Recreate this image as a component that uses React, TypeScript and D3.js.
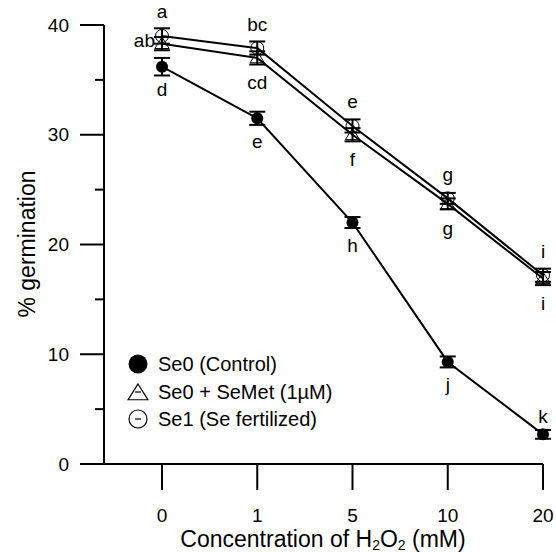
import React from "react";
import * as d3 from "d3";

// H2O2 concentrations (mM), shown as evenly spaced categories
const concentrations = ["0", "1", "5", "10", "20"];

// % germination means and errors
const se0 = [36.2, 31.5, 22.0, 9.3, 2.7];
const se0Err = [0.8, 0.6, 0.5, 0.5, 0.4];
const seMet = [38.3, 37.0, 30.0, 23.7, 16.9];
const seMetErr = [0.6, 0.6, 0.6, 0.5, 0.6];
const se1 = [39.0, 37.9, 30.8, 24.2, 17.2];
const se1Err = [0.7, 0.6, 0.6, 0.5, 0.6];

// significance letters
const se0Letters = ["d", "e", "h", "j", "k"];
const seMetLetters = ["ab", "cd", "f", "g", "i"];
const se1Letters = ["a", "bc", "e", "g", "i"];

const yTicks = [0, 10, 20, 30, 40];
const yMinorTicks = [5, 15, 25, 35];

const legendLabels = ["Se0 (Control)", "Se0 + SeMet (1\u00b5M)", "Se1 (Se fertilized)"];

const W = 556;
const H = 552;
const font = "'Liberation Sans', Arial, sans-serif";

const x = d3.scalePoint<string>().domain(concentrations).range([162, 543]);
const y = d3.scaleLinear().domain([0, 40]).range([464, 25]);

const line = d3
  .line<number>()
  .x((_, i) => x(concentrations[i])!)
  .y((d) => y(d));

function ErrorBars({ vals, errs }: { vals: number[]; errs: number[] }) {
  return (
    <g stroke="#000" strokeWidth={2}>
      {vals.map((v, i) => {
        const cx = x(concentrations[i])!;
        const top = y(v + errs[i]);
        const bot = y(v - errs[i]);
        return (
          <g key={i}>
            <line x1={cx} x2={cx} y1={top} y2={bot} />
            <line x1={cx - 8} x2={cx + 8} y1={top} y2={top} />
            <line x1={cx - 8} x2={cx + 8} y1={bot} y2={bot} />
          </g>
        );
      })}
    </g>
  );
}

const triPath = (cx: number, cy: number, s: number) =>
  `M${cx},${cy - s} L${cx + s * 1.1},${cy + s * 0.75} L${cx - s * 1.1},${cy + s * 0.75} Z`;

export default function App() {
  const letter = (t: string, lx: number, ly: number, key: string, anchor = "middle") => (
    <text
      key={key}
      x={lx}
      y={ly}
      textAnchor={anchor}
      dominantBaseline="central"
      fontSize={19}
      fontFamily={font}
      fill="#000"
    >
      {t}
    </text>
  );

  return (
    <svg
      width={W}
      height={H}
      style={{ position: "absolute", left: 0, top: 0, background: "#fff" }}
    >
      {/* axes */}
      <g stroke="#000" strokeWidth={2}>
        <line x1={104} x2={104} y1={y(40)} y2={y(0)} />
        <line x1={80} x2={x("20")!} y1={y(0)} y2={y(0)} />
        {yTicks.map((t) => (
          <line key={t} x1={80} x2={104} y1={y(t)} y2={y(t)} />
        ))}
        {yMinorTicks.map((t) => (
          <line key={t} x1={95} x2={104} y1={y(t)} y2={y(t)} />
        ))}
        {concentrations.map((c) => (
          <line key={c} x1={x(c)} x2={x(c)} y1={y(0)} y2={y(0) + 26} />
        ))}
      </g>
      <g fontFamily={font} fontSize={19} fill="#000">
        {yTicks.map((t) => (
          <text key={t} x={69} y={y(t)} textAnchor="end" dominantBaseline="central">
            {t}
          </text>
        ))}
        {concentrations.map((c) => (
          <text key={c} x={x(c)} y={515} textAnchor="middle" dominantBaseline="central">
            {c}
          </text>
        ))}
      </g>
      <text
        transform="translate(27,244) rotate(-90)"
        textAnchor="middle"
        dominantBaseline="central"
        fontFamily={font}
        fontSize={23}
      >
        % germination
      </text>
      <text x={323} y={547} textAnchor="middle" fontFamily={font} fontSize={23}>
        Concentration of H
        <tspan fontSize={14} dy={3}>2</tspan>
        <tspan dy={-3}>O</tspan>
        <tspan fontSize={14} dy={3}>2</tspan>
        <tspan dy={-3}> (mM)</tspan>
      </text>

      {/* series lines */}
      <g fill="none" stroke="#000" strokeWidth={2}>
        <path d={line(se0)!} />
        <path d={line(seMet)!} />
        <path d={line(se1)!} />
      </g>

      <ErrorBars vals={se0} errs={se0Err} />
      <ErrorBars vals={seMet} errs={seMetErr} />
      <ErrorBars vals={se1} errs={se1Err} />

      {/* markers */}
      {se0.map((v, i) => (
        <circle key={"f" + i} cx={x(concentrations[i])} cy={y(v)} r={6} fill="#000" />
      ))}
      {seMet.map((v, i) => (
        <path
          key={"t" + i}
          d={triPath(x(concentrations[i])!, y(v), 6.5)}
          fill="none"
          stroke="#000"
          strokeWidth={1}
        />
      ))}
      {se1.map((v, i) => (
        <circle
          key={"o" + i}
          cx={x(concentrations[i])}
          cy={y(v)}
          r={6.5}
          fill="none"
          stroke="#000"
          strokeWidth={1}
        />
      ))}

      {/* letters */}
      {se1.map((v, i) => letter(se1Letters[i], x(concentrations[i])!, y(v) - 24, "l1" + i))}
      {seMet.map((v, i) =>
        i === 0
          ? letter(seMetLetters[i], x(concentrations[i])! - 7, y(v) - 3, "lm" + i, "end")
          : letter(seMetLetters[i], x(concentrations[i])!, y(v) + 25, "lm" + i)
      )}
      {se0.map((v, i) =>
        letter(
          se0Letters[i],
          x(concentrations[i])!,
          i === se0.length - 1 ? y(v) - 18 : y(v) + 23,
          "l0" + i
        )
      )}

      {/* legend */}
      <g fontFamily={font} fontSize={20}>
        <circle cx={138} cy={364} r={9.5} fill="#000" />
        <path d={triPath(138, 393, 9)} fill="none" stroke="#000" strokeWidth={1.2} />
        <line x1={135} x2={141} y1={392} y2={392} stroke="#000" strokeWidth={1.2} />
        <circle cx={138} cy={419} r={9} fill="none" stroke="#000" strokeWidth={1.2} />
        <line x1={135} x2={141} y1={419} y2={419} stroke="#000" strokeWidth={1.2} />
        {legendLabels.map((l, i) => (
          <text key={l} x={158} y={364 + i * 27.5} dominantBaseline="central">
            {l}
          </text>
        ))}
      </g>
    </svg>
  );
}
